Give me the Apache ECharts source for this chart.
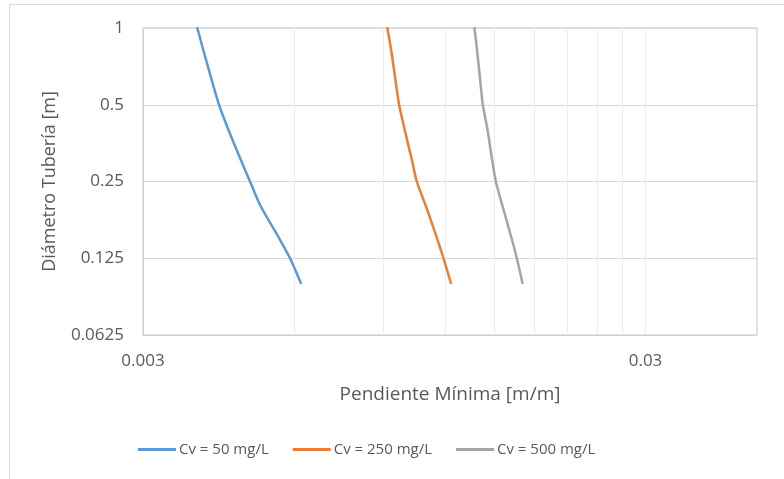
<!DOCTYPE html>
<html>
<head>
<meta charset="utf-8">
<script src="https://cdn.jsdelivr.net/npm/echarts@6/dist/echarts.min.js"></script>
<style>html,body{margin:0;padding:0;background:#fff}#c{width:784px;height:479px}</style>
</head>
<body>
<div id="c"></div>
<script>
// Diámetro Tubería [m]
var diameters = [1, 0.8, 0.6, 0.5, 0.4, 0.3, 0.25, 0.2, 0.15, 0.125, 0.1];
// Pendiente Mínima [m/m]
var slopeCv50  = [0.003848, 0.003968, 0.004135, 0.004250, 0.004435, 0.004709, 0.004899, 0.005146, 0.005596, 0.005885, 0.006182];
var slopeCv250 = [0.009193, 0.009371, 0.009567, 0.009700, 0.009949, 0.010300, 0.010520, 0.010968, 0.011537, 0.011887, 0.012296];
var slopeCv500 = [0.013700, 0.013880, 0.014093, 0.014236, 0.014541, 0.014870, 0.015112, 0.015581, 0.016237, 0.016637, 0.017068];
var seriesNames = ['Cv = 50 mg/L', 'Cv = 250 mg/L', 'Cv = 500 mg/L'];
var xTicks = [0.003, 0.03];
var xMax = 0.05;
var yTicks = [0.0625, 0.125, 0.25, 0.5, 1];
var xGridValues = [0.003, 0.006, 0.009, 0.012, 0.015, 0.018, 0.021, 0.024, 0.027, 0.03];

function pairs(xs, ys) { return xs.map(function (x, i) { return [x, ys[i]]; }); }

var FONT = '"Open Sans", sans-serif';
var TXT = '#595959';
var chart = echarts.init(document.getElementById('c'));
var colors = ['#5b9bd5', '#ed7d31', '#a5a5a5'];
var lineSeries = [slopeCv50, slopeCv250, slopeCv500].map(function (arr, i) {
  return {
    name: seriesNames[i], type: 'line', data: pairs(arr, diameters),
    showSymbol: false, symbol: 'none', smooth: 0.3, z: 3,
    lineStyle: { color: colors[i], width: 2.5, cap: 'round' },
    itemStyle: { color: colors[i] }
  };
});
chart.setOption({
  animation: false,
  color: colors,
  textStyle: { fontFamily: FONT },
  graphic: [{
    type: 'rect', shape: { x: 9.5, y: 4.5, width: 800, height: 500 },
    style: { fill: 'none', stroke: '#d9d9d9', lineWidth: 1 }, silent: true, z: -1
  }],
  grid: { left: 143, right: 27, top: 28, bottom: 144, show: true, borderColor: '#c4c4c4', borderWidth: 1 },
  legend: {
    data: seriesNames, bottom: 17, left: 133,
    icon: 'rect', itemWidth: 38, itemHeight: 3, itemGap: 24,
    textStyle: { color: TXT, fontSize: 15, fontFamily: FONT, padding: [0, 0, 0, -2] }
  },
  xAxis: {
    type: 'log', logBase: 10, min: xTicks[0], max: xMax,
    name: 'Pendiente Mínima [m/m]', nameLocation: 'middle', nameGap: 50,
    nameTextStyle: { color: TXT, fontSize: 19, fontFamily: FONT },
    axisLine: { show: true, lineStyle: { color: '#d0d0d0' } },
    axisTick: { show: false, customValues: xGridValues },
    axisLabel: {
      color: TXT, fontSize: 17, margin: 18, fontFamily: FONT,
      customValues: xTicks,
      formatter: function (v) { return String(+(+v).toPrecision(6)); }
    },
    splitLine: { show: true, lineStyle: { color: '#ececec', width: 1 } }
  },
  yAxis: {
    type: 'log', logBase: 2, min: yTicks[0], max: yTicks[yTicks.length - 1],
    name: 'Diámetro Tubería [m]', nameLocation: 'middle', nameGap: 84,
    nameTextStyle: { color: TXT, fontSize: 18, fontFamily: FONT },
    axisLine: { show: true, lineStyle: { color: '#d0d0d0' } },
    axisTick: { show: false, customValues: yTicks },
    axisLabel: {
      color: TXT, fontSize: 17, margin: 19, fontFamily: FONT,
      customValues: yTicks,
      formatter: function (v) { return String(+(+v).toPrecision(6)); }
    },
    splitLine: { show: true, lineStyle: { color: '#d9d9d9', width: 1 } }
  },
  series: lineSeries
});
</script>
</body>
</html>
